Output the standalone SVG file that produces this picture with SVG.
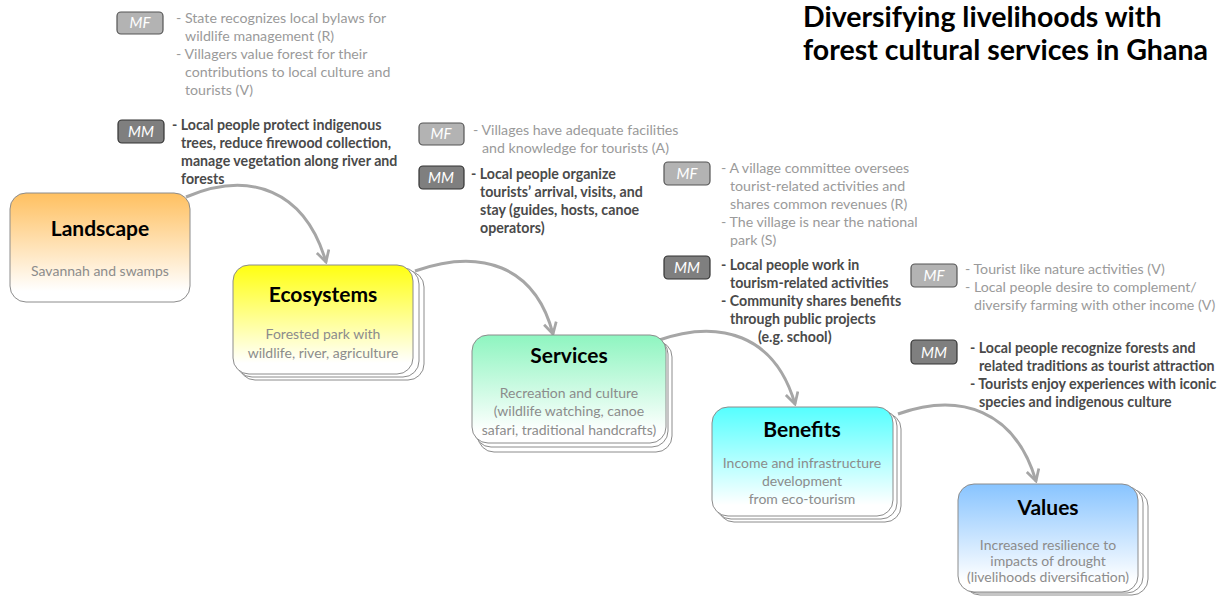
<svg xmlns="http://www.w3.org/2000/svg" width="1232" height="597" viewBox="0 0 1232 597">
<defs>
<style>
.title{font-family:Lato,"Liberation Sans",sans-serif;font-weight:bold;font-size:28.5px;fill:#000;}
.nt{font-family:Lato,"Liberation Sans",sans-serif;font-weight:bold;font-size:21px;fill:#000;text-anchor:middle;}
.ns{font-family:Lato,"Liberation Sans",sans-serif;font-size:14px;fill:#8c8c8c;text-anchor:middle;}
.mf{font-family:Lato,"Liberation Sans",sans-serif;font-size:14.2px;fill:#9a9a9a;}
.mm{font-family:Lato,"Liberation Sans",sans-serif;font-size:14.2px;font-weight:bold;fill:#4a4a4a;}
.tagf{fill:#b3b3b3;stroke:#555;stroke-width:1.2;}
.tagm{fill:#7f7f7f;stroke:#333;stroke-width:1.2;}
.tagt{font-family:Lato,"Liberation Sans",sans-serif;font-size:15px;font-style:italic;fill:#fff;text-anchor:middle;}
.box{stroke:#8c8c8c;stroke-width:1;}
.back{fill:#fff;stroke:#8c8c8c;stroke-width:1;}
.conn{fill:none;stroke:#a6a6a6;stroke-width:3;marker-end:url(#ah);}
</style>
<marker id="ah" viewBox="0 0 12 12" refX="10" refY="6" markerWidth="5" markerHeight="5" orient="auto" markerUnits="strokeWidth">
<path d="M1,1 L10,6 L1,11" fill="none" stroke="#a6a6a6" stroke-width="2.2"/>
</marker>
<linearGradient id="gL" x1="0" y1="0" x2="0" y2="1"><stop offset="0" stop-color="#ffc060"/><stop offset="0.9" stop-color="#ffffff"/></linearGradient>
<linearGradient id="gE" x1="0" y1="0" x2="0" y2="1"><stop offset="0" stop-color="#ffff10"/><stop offset="0.9" stop-color="#ffffff"/></linearGradient>
<linearGradient id="gS" x1="0" y1="0" x2="0" y2="1"><stop offset="0" stop-color="#8ef5c0"/><stop offset="0.9" stop-color="#ffffff"/></linearGradient>
<linearGradient id="gB" x1="0" y1="0" x2="0" y2="1"><stop offset="0" stop-color="#55ffff"/><stop offset="0.9" stop-color="#ffffff"/></linearGradient>
<linearGradient id="gV" x1="0" y1="0" x2="0" y2="1"><stop offset="0" stop-color="#88c4ff"/><stop offset="0.9" stop-color="#ffffff"/></linearGradient>
</defs>
<rect width="1232" height="597" fill="#fff"/>

<g id="title">
<text class="title" x="803" y="27">Diversifying livelihoods with</text>
<text class="title" x="803" y="60">forest cultural services in Ghana</text>
</g>

<g id="connectors">
<path class="conn" d="M186,197 C250,170 305,190 326,262"/>
<path class="conn" d="M415,271 C480,248 535,265 553,334"/>
<path class="conn" d="M656,341 C720,318 775,335 795,404"/>
<path class="conn" d="M898,414 C960,392 1015,410 1036,481"/>
</g>

<g id="landscape">
<rect class="box" x="10" y="193" width="180" height="109" rx="16" fill="url(#gL)"/>
<text class="nt" x="100" y="236">Landscape</text>
<text class="ns" x="100" y="276">Savannah and swamps</text>
</g>

<g id="ecosystems">
<rect class="back" x="239" y="271" width="185" height="109" rx="16"/>
<rect class="back" x="236" y="268" width="183" height="109" rx="16"/>
<rect class="box" x="233" y="265" width="180" height="109" rx="16" fill="url(#gE)"/>
<text class="nt" x="323" y="302">Ecosystems</text>
<text class="ns" x="323" y="339">Forested park with</text>
<text class="ns" x="323" y="358">wildlife, river, agriculture</text>
</g>

<g id="services">
<rect class="back" x="478" y="341" width="194" height="111" rx="16"/>
<rect class="back" x="475" y="338" width="193" height="109" rx="16"/>
<rect class="box" x="472" y="335" width="194" height="108" rx="16" fill="url(#gS)"/>
<text class="nt" x="569" y="363">Services</text>
<text class="ns" x="569" y="398">Recreation and culture</text>
<text class="ns" x="569" y="416">(wildlife watching, canoe</text>
<text class="ns" x="569" y="435">safari, traditional handcrafts)</text>
</g>

<g id="benefits">
<rect class="back" x="718" y="413" width="183" height="109" rx="16"/>
<rect class="back" x="715" y="410" width="182" height="109" rx="16"/>
<rect class="box" x="712" y="407" width="181" height="109" rx="16" fill="url(#gB)"/>
<text class="nt" x="802" y="437">Benefits</text>
<text class="ns" x="802" y="468">Income and infrastructure</text>
<text class="ns" x="802" y="486">development</text>
<text class="ns" x="802" y="504">from eco-tourism</text>
</g>

<g id="values">
<rect class="back" x="964" y="490" width="184" height="105" rx="16"/>
<rect class="back" x="961" y="487" width="182" height="106" rx="16"/>
<rect class="box" x="958" y="484" width="180" height="108" rx="16" fill="url(#gV)"/>
<text class="nt" x="1048" y="515">Values</text>
<text class="ns" x="1048" y="550">Increased resilience to</text>
<text class="ns" x="1048" y="566">impacts of drought</text>
<text class="ns" x="1048" y="582">(livelihoods diversification)</text>
</g>

<g id="mf1">
<rect class="tagf" x="117" y="12" width="46" height="22" rx="4"/>
<text class="tagt" x="140" y="28">MF</text>
<text class="mf" x="176" y="23">- State recognizes local bylaws for</text>
<text class="mf" x="185" y="41">wildlife management (R)</text>
<text class="mf" x="176" y="59">- Villagers value forest for their</text>
<text class="mf" x="185" y="77">contributions to local culture and</text>
<text class="mf" x="185" y="95">tourists (V)</text>
</g>

<g id="mm1">
<rect class="tagm" x="118" y="120" width="46" height="23" rx="4"/>
<text class="tagt" x="141" y="137">MM</text>
<text class="mm" x="172" y="130">- Local people protect indigenous</text>
<text class="mm" x="181" y="148">trees, reduce firewood collection,</text>
<text class="mm" x="181" y="166">manage vegetation along river and</text>
<text class="mm" x="181" y="184">forests</text>
</g>

<g id="mf2">
<rect class="tagf" x="419" y="123" width="45" height="22" rx="4"/>
<text class="tagt" x="441" y="139">MF</text>
<text class="mf" x="473" y="135">- Villages have adequate facilities</text>
<text class="mf" x="482" y="153">and knowledge for tourists (A)</text>
</g>

<g id="mm2">
<rect class="tagm" x="419" y="166" width="45" height="23" rx="4"/>
<text class="tagt" x="441" y="183">MM</text>
<text class="mm" x="471" y="179">- Local people organize</text>
<text class="mm" x="480" y="197">tourists’ arrival, visits, and</text>
<text class="mm" x="480" y="215">stay (guides, hosts, canoe</text>
<text class="mm" x="480" y="233">operators)</text>
</g>

<g id="mf3">
<rect class="tagf" x="664" y="162" width="46" height="23" rx="4"/>
<text class="tagt" x="687" y="179">MF</text>
<text class="mf" x="721" y="173">- A village committee oversees</text>
<text class="mf" x="730" y="191">tourist-related activities and</text>
<text class="mf" x="730" y="209">shares common revenues (R)</text>
<text class="mf" x="721" y="227">- The village is near the national</text>
<text class="mf" x="730" y="245">park (S)</text>
</g>

<g id="mm3">
<rect class="tagm" x="664" y="256" width="46" height="23" rx="4"/>
<text class="tagt" x="687" y="273">MM</text>
<text class="mm" x="721" y="270">- Local people work in</text>
<text class="mm" x="730" y="288">tourism-related activities</text>
<text class="mm" x="721" y="306">- Community shares benefits</text>
<text class="mm" x="730" y="324">through public projects</text>
<text class="mm" x="758" y="342">(e.g. school)</text>
</g>

<g id="mf4">
<rect class="tagf" x="911" y="264" width="46" height="23" rx="4"/>
<text class="tagt" x="934" y="281">MF</text>
<text class="mf" x="965" y="274">- Tourist like nature activities (V)</text>
<text class="mf" x="965" y="292">- Local people desire to complement/</text>
<text class="mf" x="974" y="310">diversify  farming with other income (V)</text>
</g>

<g id="mm4">
<rect class="tagm" x="911" y="340" width="46" height="24" rx="4"/>
<text class="tagt" x="934" y="358">MM</text>
<text class="mm" x="970" y="353">- Local people recognize forests and</text>
<text class="mm" x="979" y="371">related traditions as tourist attraction</text>
<text class="mm" x="970" y="389">- Tourists enjoy experiences with iconic</text>
<text class="mm" x="979" y="407">species and indigenous culture</text>
</g>
</svg>
